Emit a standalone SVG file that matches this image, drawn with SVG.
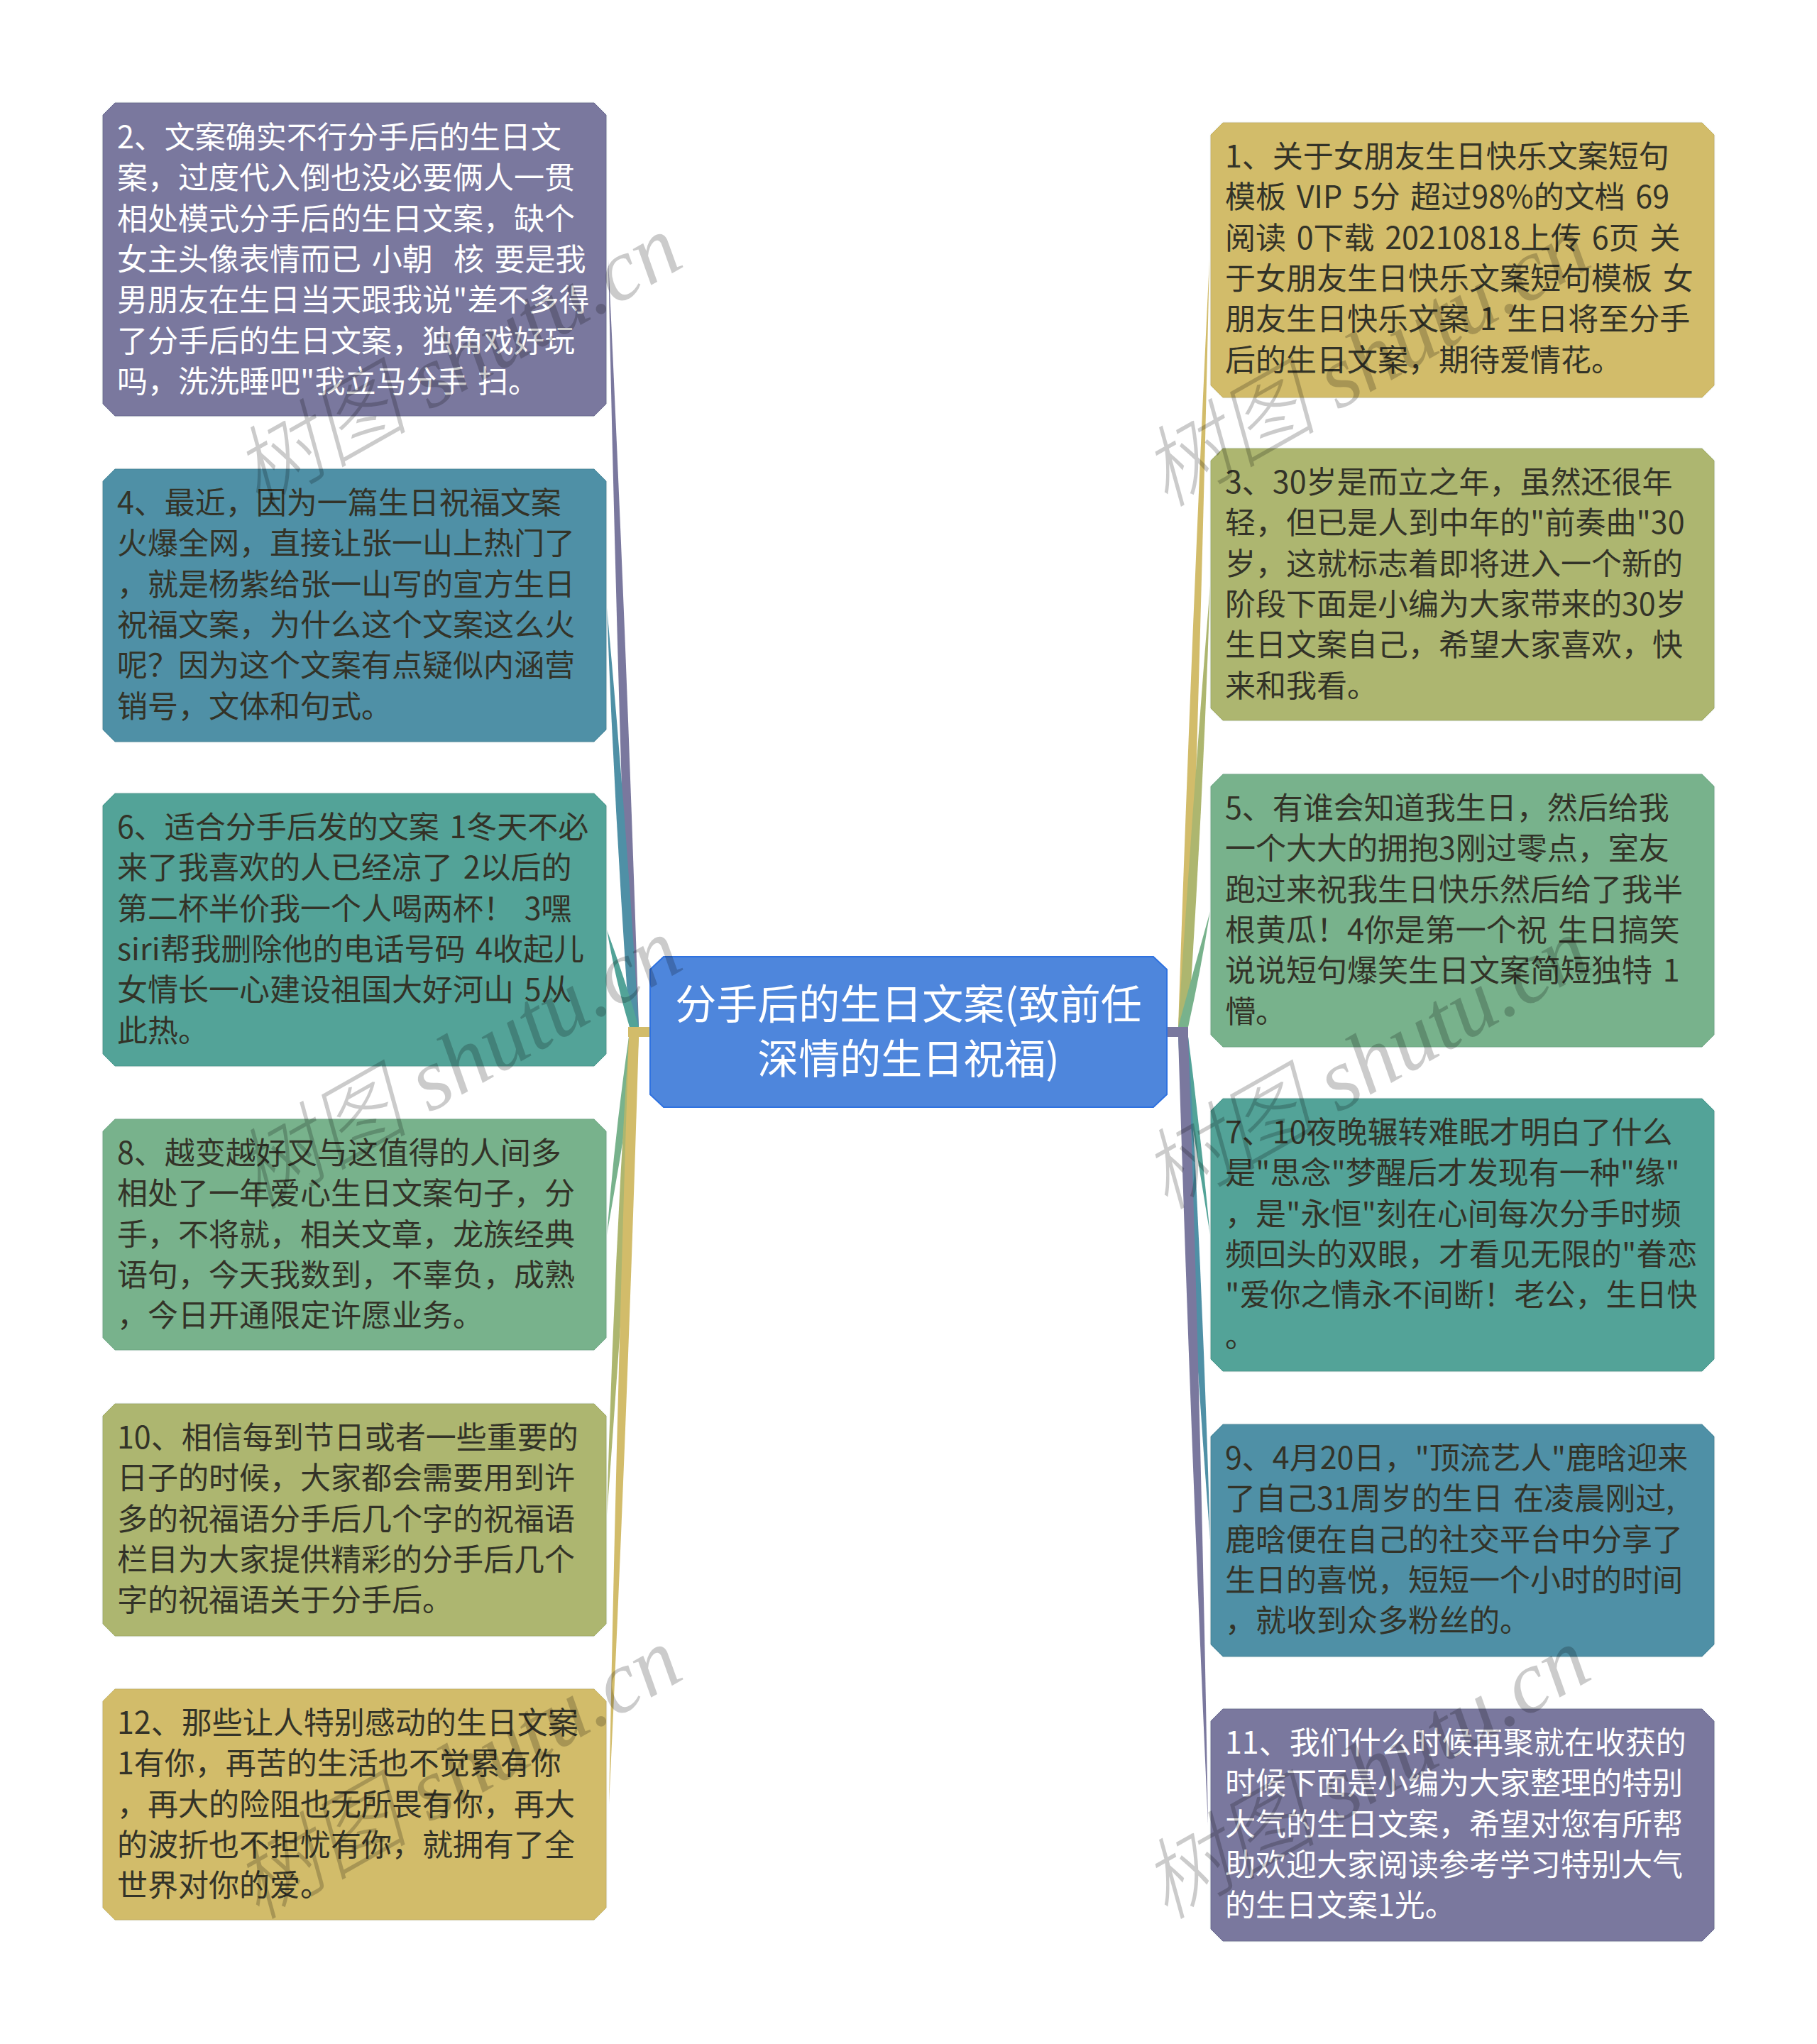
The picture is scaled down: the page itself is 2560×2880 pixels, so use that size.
<svg xmlns="http://www.w3.org/2000/svg" width="2560" height="2880" viewBox="0 0 2560 2880">
<defs><filter id="h" x="-5%" y="-5%" width="110%" height="110%"><feDropShadow dx="0" dy="0" stdDeviation="1.2" flood-color="#e0ecec"/></filter></defs>
<style>
text{font-family:"Noto Sans CJK SC","Noto Sans",sans-serif;font-size:43px;font-weight:400;fill:#333328;white-space:pre;word-spacing:5px}
g[id^=n] text{transform:translateY(-2px)}
.w text{fill:#fff}
.t{font-size:58px;fill:#fff;text-anchor:middle}
.b{filter:url(#h);stroke-width:1}
.p{fill:#7a789e;stroke:#6a6890}.bl{fill:#4f90a6;stroke:#468599}.tg{fill:#52a398;stroke:#4a978c}.g{fill:#78b28c;stroke:#6fa682}.o{fill:#adb66f;stroke:#a2ab66}.y{fill:#d2bc6a;stroke:#c7b162}
.wm{font-family:"Liberation Serif","Noto Sans CJK SC",serif;font-size:124px;font-weight:300;font-style:italic;fill:#000;opacity:.2;word-spacing:0}
</style>
<rect width="2560" height="2880" fill="#fff"/>
<g id="connectors">
<path d="M900 1447Q883 906 857 366Q868 906 887 1447Z" fill="#7a789e"/>
<path d="M900 1447Q882 1150 855 856Q866 1150 887 1447Z" fill="#4f90a6"/>
<path d="M900 1447Q880 1378 855 1310Q868 1385 887 1447Z" fill="#52a398"/>
<path d="M886 1461Q866 1600 855 1740Q880 1600 900 1461Z" fill="#78b28c"/>
<path d="M886 1461Q864 1800 855 2135Q880 1800 900 1461Z" fill="#adb66f"/>
<path d="M886 1461Q868 2000 858 2542Q884 2000 900 1461Z" fill="#d2bc6a"/>
<path d="M885 1447H917V1461H885Z" fill="#d2bc6a"/>
<path d="M1660 1447Q1678 906 1704 366Q1692 906 1674 1447Z" fill="#d2bc6a"/>
<path d="M1660 1447Q1680 1136 1705 825Q1695 1136 1674 1447Z" fill="#adb66f"/>
<path d="M1660 1447Q1682 1366 1705 1284Q1692 1366 1674 1447Z" fill="#78b28c"/>
<path d="M1660 1461Q1682 1600 1705 1740Q1692 1600 1674 1461Z" fill="#52a398"/>
<path d="M1660 1461Q1678 1815 1705 2170Q1695 1815 1674 1461Z" fill="#4f90a6"/>
<path d="M1660 1461Q1677 2015 1702 2571Q1693 2015 1674 1461Z" fill="#7a789e"/>
<path d="M1644 1447H1674V1461H1644Z" fill="#7a789e"/>
</g>
<g id="center"><path d="M935 1348H1625L1644 1366V1542L1625 1560H935L916 1542V1366Z" fill="#4e86dc" stroke="#2f72e0" stroke-width="2"/>
<text class="t" x="1280" y="1436">分手后的生日文案(致前任</text>
<text class="t" x="1280" y="1513">深情的生日祝福)</text></g>
<g id="n2" class="w"><path class="b p" d="M162 145H837L854 162V569L837 586H162L145 569V162Z"/>
<text x="165" y="211">2、文案确实不行分手后的生日文</text><text x="165" y="268">案，过度代入倒也没必要俩人一贯</text><text x="165" y="326">相处模式分手后的生日文案，缺个</text><text x="165" y="383">女主头像表情而已 小朝  核 要是我</text><text x="165" y="440">男朋友在生日当天跟我说"差不多得</text><text x="165" y="498">了分手后的生日文案，独角戏好玩</text><text x="165" y="555">吗，洗洗睡吧"我立马分手 扫。</text></g>
<g id="n4"><path class="b bl" d="M162 661H837L854 678V1028L837 1045H162L145 1028V678Z"/>
<text x="165" y="726">4、最近，因为一篇生日祝福文案</text><text x="165" y="783">火爆全网，直接让张一山上热门了</text><text x="165" y="841">，就是杨紫给张一山写的宣方生日</text><text x="165" y="898">祝福文案，为什么这个文案这么火</text><text x="165" y="955">呢？因为这个文案有点疑似内涵营</text><text x="165" y="1013">销号，文体和句式。</text></g>
<g id="n6"><path class="b tg" d="M162 1118H837L854 1135V1485L837 1502H162L145 1485V1135Z"/>
<text x="165" y="1183">6、适合分手后发的文案 1冬天不必</text><text x="165" y="1240">来了我喜欢的人已经凉了 2以后的</text><text x="165" y="1298">第二杯半价我一个人喝两杯！ 3嘿</text><text x="165" y="1355">siri帮我删除他的电话号码 4收起儿</text><text x="165" y="1412">女情长一心建设祖国大好河山 5从</text><text x="165" y="1470">此热。</text></g>
<g id="n8"><path class="b g" d="M162 1577H837L854 1594V1885L837 1902H162L145 1885V1594Z"/>
<text x="165" y="1642">8、越变越好又与这值得的人间多</text><text x="165" y="1699">相处了一年爱心生日文案句子，分</text><text x="165" y="1757">手，不将就，相关文章，龙族经典</text><text x="165" y="1814">语句，今天我数到，不辜负，成熟</text><text x="165" y="1871">，今日开通限定许愿业务。</text></g>
<g id="n10"><path class="b o" d="M162 1978H837L854 1995V2288L837 2305H162L145 2288V1995Z"/>
<text x="165" y="2043">10、相信每到节日或者一些重要的</text><text x="165" y="2100">日子的时候，大家都会需要用到许</text><text x="165" y="2158">多的祝福语分手后几个字的祝福语</text><text x="165" y="2215">栏目为大家提供精彩的分手后几个</text><text x="165" y="2272">字的祝福语关于分手后。</text></g>
<g id="n12"><path class="b y" d="M162 2380H837L854 2397V2688L837 2705H162L145 2688V2397Z"/>
<text x="165" y="2445">12、那些让人特别感动的生日文案</text><text x="165" y="2502">1有你，再苦的生活也不觉累有你</text><text x="165" y="2560">，再大的险阻也无所畏有你，再大</text><text x="165" y="2617">的波折也不担忧有你，就拥有了全</text><text x="165" y="2674">世界对你的爱。</text></g>
<g id="n1"><path class="b y" d="M1723 173H2398L2415 190V543L2398 560H1723L1706 543V190Z"/>
<text x="1726" y="238">1、关于女朋友生日快乐文案短句</text><text x="1726" y="295">模板 VIP 5分 超过98%的文档 69</text><text x="1726" y="353">阅读 0下载 20210818上传 6页 关</text><text x="1726" y="410">于女朋友生日快乐文案短句模板 女</text><text x="1726" y="467">朋友生日快乐文案 1 生日将至分手</text><text x="1726" y="525">后的生日文案，期待爱情花。</text></g>
<g id="n3"><path class="b o" d="M1723 632H2398L2415 649V998L2398 1015H1723L1706 998V649Z"/>
<text x="1726" y="697">3、30岁是而立之年，虽然还很年</text><text x="1726" y="754">轻，但已是人到中年的"前奏曲"30</text><text x="1726" y="812">岁，这就标志着即将进入一个新的</text><text x="1726" y="869">阶段下面是小编为大家带来的30岁</text><text x="1726" y="926">生日文案自己，希望大家喜欢，快</text><text x="1726" y="984">来和我看。</text></g>
<g id="n5"><path class="b g" d="M1723 1091H2398L2415 1108V1458L2398 1475H1723L1706 1458V1108Z"/>
<text x="1726" y="1156">5、有谁会知道我生日，然后给我</text><text x="1726" y="1213">一个大大的拥抱3刚过零点，室友</text><text x="1726" y="1271">跑过来祝我生日快乐然后给了我半</text><text x="1726" y="1328">根黄瓜！4你是第一个祝 生日搞笑</text><text x="1726" y="1385">说说短句爆笑生日文案简短独特 1</text><text x="1726" y="1443">懵。</text></g>
<g id="n7"><path class="b tg" d="M1723 1548H2398L2415 1565V1915L2398 1932H1723L1706 1915V1565Z"/>
<text x="1726" y="1613">7、10夜晚辗转难眠才明白了什么</text><text x="1726" y="1670">是"思念"梦醒后才发现有一种"缘"</text><text x="1726" y="1728">，是"永恒"刻在心间每次分手时频</text><text x="1726" y="1785">频回头的双眼，才看见无限的"眷恋</text><text x="1726" y="1842">"爱你之情永不间断！老公，生日快</text><text x="1726" y="1900">。</text></g>
<g id="n9"><path class="b bl" d="M1723 2007H2398L2415 2024V2317L2398 2334H1723L1706 2317V2024Z"/>
<text x="1726" y="2072">9、4月20日，"顶流艺人"鹿晗迎来</text><text x="1726" y="2129">了自己31周岁的生日 在凌晨刚过,</text><text x="1726" y="2187">鹿晗便在自己的社交平台中分享了</text><text x="1726" y="2244">生日的喜悦，短短一个小时的时间</text><text x="1726" y="2301">，就收到众多粉丝的。</text></g>
<g id="n11" class="w"><path class="b p" d="M1723 2408H2398L2415 2425V2718L2398 2735H1723L1706 2718V2425Z"/>
<text x="1726" y="2473">11、我们什么时候再聚就在收获的</text><text x="1726" y="2530">时候下面是小编为大家整理的特别</text><text x="1726" y="2588">大气的生日文案，希望对您有所帮</text><text x="1726" y="2645">助欢迎大家阅读参考学习特别大气</text><text x="1726" y="2702">的生日文案1光。</text></g>
<g id="watermarks">
<text class="wm" transform="translate(362 716) rotate(-29.5)">树图 shutu.cn</text>
<text class="wm" transform="translate(362 1706) rotate(-29.5)">树图 shutu.cn</text>
<text class="wm" transform="translate(362 2706) rotate(-29.5)">树图 shutu.cn</text>
<text class="wm" transform="translate(1642 716) rotate(-29.5)">树图 shutu.cn</text>
<text class="wm" transform="translate(1642 1706) rotate(-29.5)">树图 shutu.cn</text>
<text class="wm" transform="translate(1642 2706) rotate(-29.5)">树图 shutu.cn</text>
</g>
</svg>
